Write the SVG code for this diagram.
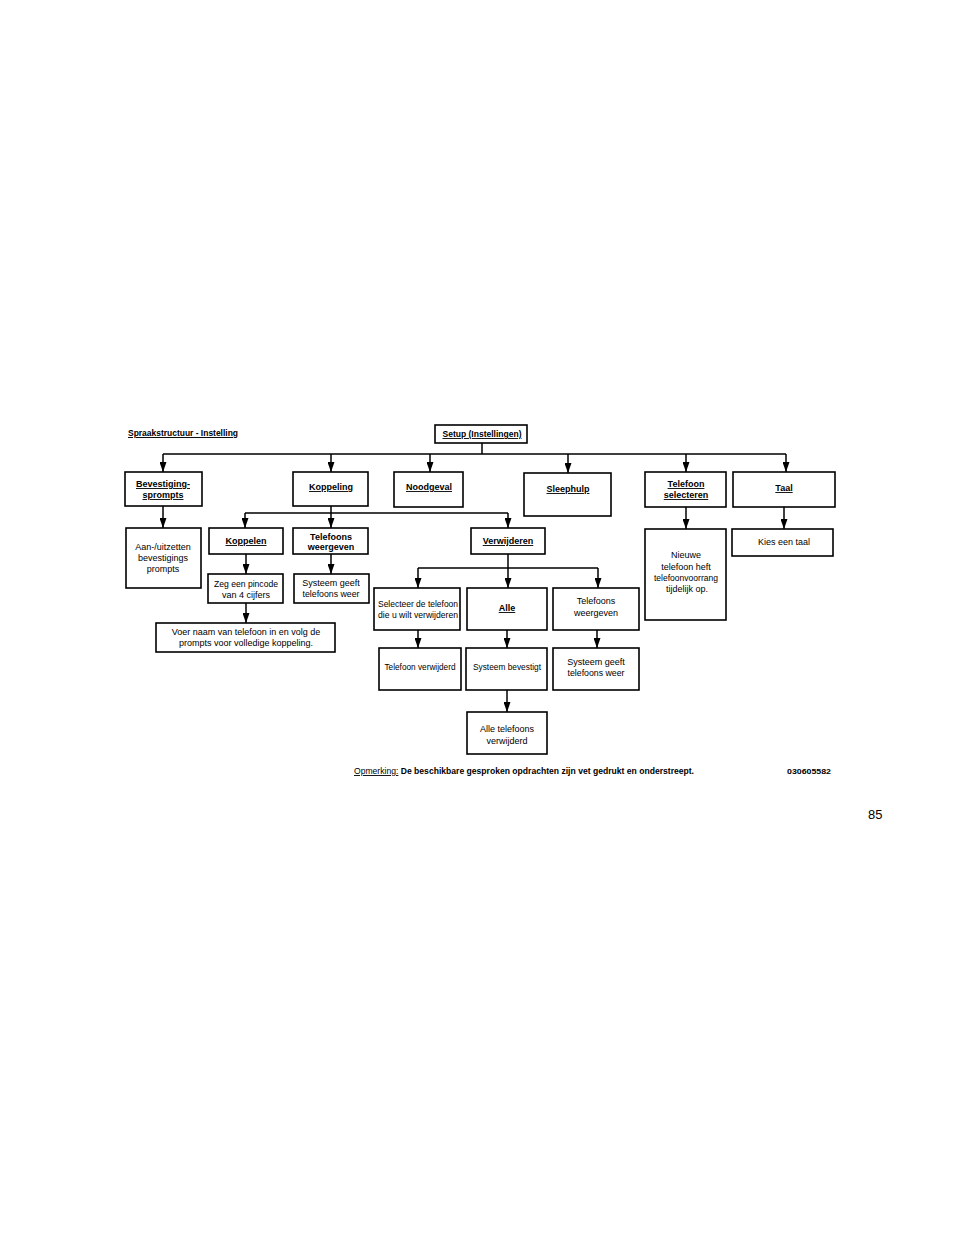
<svg xmlns="http://www.w3.org/2000/svg" width="960" height="1242" viewBox="0 0 960 1242">
<style>
.b{fill:#fff;stroke:#000;stroke-width:1.6}
.c{fill:none;stroke:#000;stroke-width:1.5}
text{font-family:"Liberation Sans",Arial,sans-serif;font-size:9px;fill:#000;text-anchor:middle}
.k{font-weight:bold}
.u{text-decoration:underline}
.l{text-anchor:start}
</style>
<defs>
<marker id="ah" viewBox="0 0 10 10" refX="10" refY="5" markerWidth="10" markerHeight="7" markerUnits="userSpaceOnUse" orient="auto" preserveAspectRatio="none">
<path d="M0,0 L10,5 L0,10 z" fill="#000"/>
</marker>
</defs>
<rect width="960" height="1242" fill="#fff"/>
<text class="k u l" x="128" y="436" style="font-size:9.5px" textLength="110" lengthAdjust="spacingAndGlyphs">Spraakstructuur - Instelling</text>
<g id="connectors">
<path class="c" d="M482,443 V454 M163,454 H786 M331,506 V513 M245,513 H508 M508,554 V568 M418,568 H598"/>
<g marker-end="url(#ah)">
<path class="c" d="M163,454 V472"/>
<path class="c" d="M331,454 V472"/>
<path class="c" d="M430,454 V472"/>
<path class="c" d="M568,454 V473"/>
<path class="c" d="M686,454 V472"/>
<path class="c" d="M786,454 V472"/>
<path class="c" d="M163,506 V528"/>
<path class="c" d="M245,513 V528"/>
<path class="c" d="M331,513 V528"/>
<path class="c" d="M508,513 V528"/>
<path class="c" d="M246,554 V574"/>
<path class="c" d="M331,554 V574"/>
<path class="c" d="M246,603 V623"/>
<path class="c" d="M418,568 V588"/>
<path class="c" d="M508,568 V588"/>
<path class="c" d="M598,568 V588"/>
<path class="c" d="M418,630 V648"/>
<path class="c" d="M507,630 V648"/>
<path class="c" d="M597,630 V648"/>
<path class="c" d="M507,690 V712"/>
<path class="c" d="M686,507 V529"/>
<path class="c" d="M784,507 V529"/>
</g>
</g>
<g id="setup"><rect class="b" x="435" y="425" width="92" height="18"/><text class="k u" x="482" y="437" textLength="79" lengthAdjust="spacingAndGlyphs">Setup (Instellingen)</text></g>
<g id="bevestiging"><rect class="b" x="125" y="472" width="77" height="34"/><text class="k u" x="163" y="487">Bevestiging-</text><text class="k u" x="163" y="498">sprompts</text></g>
<g id="koppeling"><rect class="b" x="293" y="472" width="75" height="34"/><text class="k u" x="331" y="490">Koppeling</text></g>
<g id="noodgeval"><rect class="b" x="394" y="472" width="69" height="35"/><text class="k u" x="429" y="490">Noodgeval</text></g>
<g id="sleephulp"><rect class="b" x="524" y="473" width="87" height="43"/><text class="k u" x="568" y="492">Sleephulp</text></g>
<g id="telefoonselecteren"><rect class="b" x="645" y="472" width="81" height="35"/><text class="k u" x="686" y="487">Telefoon</text><text class="k u" x="686" y="498">selecteren</text></g>
<g id="taal"><rect class="b" x="733" y="472" width="102" height="35"/><text class="k u" x="784" y="491">Taal</text></g>
<g id="aanuit"><rect class="b" x="126" y="528" width="75" height="60"/><text x="163" y="550">Aan-/uitzetten</text><text x="163" y="561">bevestigings</text><text x="163" y="572">prompts</text></g>
<g id="koppelen"><rect class="b" x="209" y="528" width="74" height="26"/><text class="k u" x="246" y="544">Koppelen</text></g>
<g id="telefoonsweergeven1"><rect class="b" x="293" y="528" width="75" height="26"/><text class="k" x="331" y="540">Telefoons</text><text class="k" x="331" y="550">weergeven</text></g>
<g id="verwijderen"><rect class="b" x="471" y="528" width="74" height="26"/><text class="k u" x="508" y="544">Verwijderen</text></g>
<g id="nieuwe"><rect class="b" x="645" y="529" width="81" height="91"/><text x="686" y="558">Nieuwe</text><text x="686" y="570">telefoon heft</text><text x="686" y="581" textLength="64" lengthAdjust="spacingAndGlyphs">telefoonvoorrang</text><text x="687" y="592">tijdelijk op.</text></g>
<g id="kies"><rect class="b" x="732" y="529" width="101" height="27"/><text x="784" y="545">Kies een taal</text></g>
<g id="zeg"><rect class="b" x="208" y="574" width="75" height="29"/><text x="246" y="587" textLength="64" lengthAdjust="spacingAndGlyphs">Zeg een pincode</text><text x="246" y="598">van 4 cijfers</text></g>
<g id="systeemgeeft1"><rect class="b" x="294" y="574" width="75" height="29"/><text x="331" y="586">Systeem geeft</text><text x="331" y="597" textLength="57" lengthAdjust="spacingAndGlyphs">telefoons weer</text></g>
<g id="voer"><rect class="b" x="156" y="623" width="179" height="29"/><text x="246" y="635">Voer naam van telefoon in en volg de</text><text x="246" y="646">prompts voor volledige koppeling.</text></g>
<g id="selecteer"><rect class="b" x="374" y="588" width="86" height="42"/><text x="418" y="607" textLength="80" lengthAdjust="spacingAndGlyphs">Selecteer de telefoon</text><text x="418" y="618" textLength="80" lengthAdjust="spacingAndGlyphs">die u wilt verwijderen</text></g>
<g id="alle"><rect class="b" x="467" y="588" width="80" height="42"/><text class="k u" x="507" y="611">Alle</text></g>
<g id="telefoonsweergeven2"><rect class="b" x="553" y="588" width="86" height="42"/><text x="596" y="604">Telefoons</text><text x="596" y="616">weergeven</text></g>
<g id="telefoonverwijderd"><rect class="b" x="379" y="648" width="82" height="42"/><text x="420" y="670" textLength="71" lengthAdjust="spacingAndGlyphs">Telefoon verwijderd</text></g>
<g id="systeembevestigt"><rect class="b" x="466" y="648" width="81" height="42"/><text x="507" y="670" textLength="68" lengthAdjust="spacingAndGlyphs">Systeem bevestigt</text></g>
<g id="systeemgeeft2"><rect class="b" x="553" y="648" width="86" height="42"/><text x="596" y="665">Systeem geeft</text><text x="596" y="676" textLength="57" lengthAdjust="spacingAndGlyphs">telefoons weer</text></g>
<g id="alletelefoons"><rect class="b" x="467" y="712" width="80" height="42"/><text x="507" y="732">Alle telefoons</text><text x="507" y="744">verwijderd</text></g>
<text class="l" x="354" y="774" textLength="340" lengthAdjust="spacingAndGlyphs"><tspan class="u">Opmerking:</tspan><tspan class="k"> De beschikbare gesproken opdrachten zijn vet gedrukt en onderstreept.</tspan></text>
<text class="k l" x="787" y="774" style="font-size:7.5px" textLength="44" lengthAdjust="spacingAndGlyphs">030605582</text>
<text class="l" x="868" y="819" style="font-size:13px">85</text>
</svg>
